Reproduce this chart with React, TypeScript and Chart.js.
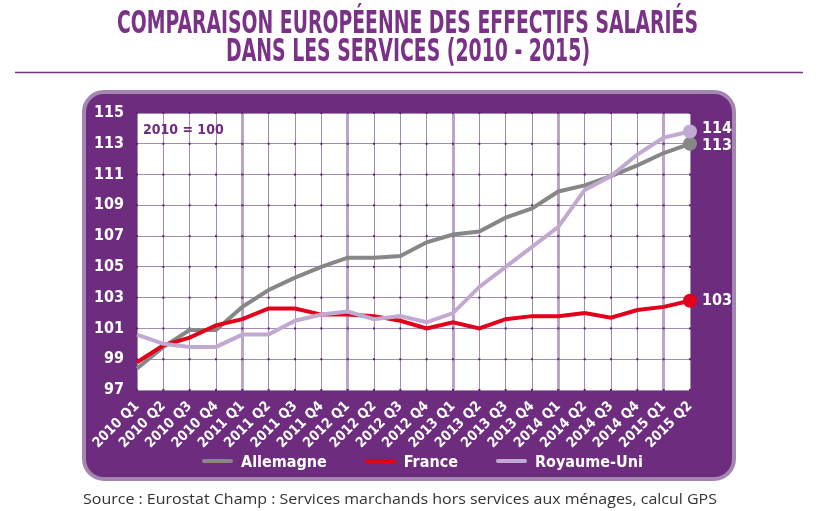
import React, { useEffect, useRef } from "react";
import { Chart, registerables } from "chart.js";

Chart.register(...registerables);

// ---------- data ----------
const quarters = [
  "2010 Q1", "2010 Q2", "2010 Q3", "2010 Q4",
  "2011 Q1", "2011 Q2", "2011 Q3", "2011 Q4",
  "2012 Q1", "2012 Q2", "2012 Q3", "2012 Q4",
  "2013 Q1", "2013 Q2", "2013 Q3", "2013 Q4",
  "2014 Q1", "2014 Q2", "2014 Q3", "2014 Q4",
  "2015 Q1", "2015 Q2",
];
const allemagne = [
  98.4, 99.8, 100.9, 100.9,
  102.4, 103.5, 104.3, 105.0,
  105.6, 105.6, 105.7, 106.6,
  107.1, 107.3, 108.2, 108.8,
  109.9, 110.3, 110.9, 111.6,
  112.4, 113.0,
];
const france = [
  98.8, 99.9, 100.4, 101.2,
  101.6, 102.3, 102.3, 101.9,
  101.9, 101.8, 101.5, 101.0,
  101.4, 101.0, 101.6, 101.8,
  101.8, 102.0, 101.7, 102.2,
  102.4, 102.8,
];
const royaumeUni = [
  100.6, 100.0, 99.8, 99.8,
  100.6, 100.6, 101.5, 101.9,
  102.1, 101.6, 101.8, 101.4,
  102.0, 103.7, 105.0, 106.3,
  107.6, 110.0, 110.9, 112.3,
  113.4, 113.8,
];
const seriesNames = ["Allemagne", "France", "Royaume-Uni"];
const endLabels = ["113", "103", "114"];
const yMin = 97;
const yMax = 115;
const yStep = 2;
const baseNote = "2010 = 100";
const titleLine1 = "COMPARAISON EUROPÉENNE DES EFFECTIFS SALARIÉS";
const titleLine2 = "DANS LES SERVICES (2010 - 2015)";
const sourceText =
  "Source : Eurostat Champ : Services marchands hors services aux ménages, calcul GPS";

// ---------- styles ----------
const COND =
  '"Liberation Sans Narrow", "DejaVu Sans Condensed", "Roboto Condensed", Roboto, sans-serif';
const PURPLE = "#6d2c7d";
const TITLE_PURPLE = "#7a3287";
const seriesColors = ["#878787", "#e2001a", "#c1a9d0"];
const seriesOrder = [2, 1, 0];
const endOffsets = [2, 0, -3];
const thinGrid = "#a48cb0";
const thickGrid = "#bba5c9";

const plotBg = {
  id: "plotBg",
  beforeDraw(chart: any) {
    const { ctx, chartArea: a } = chart;
    ctx.save();
    ctx.fillStyle = "#ffffff";
    ctx.fillRect(a.left, a.top, a.right - a.left, a.bottom - a.top);
    ctx.restore();
  },
};

const gridDots = {
  id: "gridDots",
  beforeDatasetsDraw(chart: any) {
    const { ctx } = chart;
    const xs = chart.scales.x;
    const ys = chart.scales.y;
    ctx.save();
    ctx.fillStyle = "#5a2669";
    xs.ticks.forEach((_: any, i: number) => {
      const px = xs.getPixelForTick(i);
      ys.ticks.forEach((__: any, j: number) => {
        const py = ys.getPixelForTick(j);
        ctx.fillRect(px - 1, py - 1, 2, 2);
      });
    });
    ctx.restore();
  },
};

const annotations = {
  id: "annotations",
  afterDatasetsDraw(chart: any) {
    const { ctx, chartArea: a } = chart;
    ctx.save();
    ctx.font = `bold 14px ${COND}`;
    ctx.fillStyle = PURPLE;
    ctx.textAlign = "left";
    ctx.textBaseline = "middle";
    ctx.fillText(baseNote, a.left + 6, a.top + 17);
    ctx.font = `bold 16px ${COND}`;
    ctx.fillStyle = "#ffffff";
    chart.data.datasets.forEach((_: any, i: number) => {
      const meta = chart.getDatasetMeta(i);
      const pt = meta.data[meta.data.length - 1];
      ctx.fillText(endLabels[i], pt.x + 12, pt.y + endOffsets[i]);
    });
    ctx.restore();
  },
};

export default function App() {
  const canvasRef = useRef<HTMLCanvasElement | null>(null);

  useEffect(() => {
    const canvas = canvasRef.current;
    if (!canvas) return;
    const seriesData = [allemagne, france, royaumeUni];
    const lastIdx = quarters.length - 1;
    const chart = new Chart(canvas, {
      type: "line",
      data: {
        labels: quarters,
        datasets: seriesData.map((d, i) => ({
          label: seriesNames[i],
          data: d,
          borderColor: seriesColors[i],
          backgroundColor: seriesColors[i],
          borderWidth: 4,
          tension: 0,
          fill: false,
          clip: false,
          order: seriesOrder[i],
          pointRadius: (ctx: any) => (ctx.dataIndex === lastIdx ? 7 : 0),
          pointBorderWidth: 0,
          pointBackgroundColor: seriesColors[i],
          pointHoverRadius: 0,
        })),
      },
      options: {
        responsive: false,
        animation: false,
        devicePixelRatio: 1,
        events: [],
        layout: { padding: { left: 0, top: 113, right: 129, bottom: 51 } },
        plugins: {
          legend: { display: false },
          tooltip: { enabled: false },
          title: { display: false },
        },
        scales: {
          x: {
            type: "category",
            offset: false,
            border: { display: false },
            grid: {
              offset: false,
              drawTicks: false,
              color: (ctx: any) =>
                ctx.index > 0 && String(quarters[ctx.index]).endsWith("Q1")
                  ? thickGrid
                  : thinGrid,
              lineWidth: (ctx: any) =>
                ctx.index > 0 && String(quarters[ctx.index]).endsWith("Q1") ? 3 : 1,
            },
            ticks: {
              color: "#ffffff",
              font: { family: COND, weight: "bold", size: 14 },
              minRotation: 45,
              maxRotation: 45,
              autoSkip: false,
              padding: 8,
            },
            afterFit: (s: any) => {
              s.height = 70;
            },
          },
          y: {
            min: yMin,
            max: yMax,
            border: { display: false },
            grid: { color: thinGrid, lineWidth: 1, drawTicks: false },
            ticks: {
              stepSize: yStep,
              color: "#ffffff",
              font: { family: COND, weight: "bold", size: 16 },
              padding: 13,
            },
            afterFit: (s: any) => {
              s.width = 137;
            },
          },
        },
      },
      plugins: [plotBg, gridDots, annotations],
    } as any);
    return () => chart.destroy();
  }, []);

  return (
    <div
      style={{
        position: "fixed",
        left: 0,
        top: 0,
        width: 819,
        height: 511,
        background: "#ffffff",
        overflow: "hidden",
      }}
    >
      <div
        style={{
          position: "absolute",
          left: 82,
          top: 90,
          width: 654,
          height: 391,
          boxSizing: "border-box",
          background: PURPLE,
          border: "4px solid #a386b1",
          borderRadius: 22,
        }}
      />
      <canvas
        ref={canvasRef}
        width={819}
        height={511}
        style={{ position: "absolute", left: 0, top: 0, width: 819, height: 511 }}
      />
      <svg
        width={819}
        height={511}
        style={{ position: "absolute", left: 0, top: 0, pointerEvents: "none" }}
      >
        <text
          x={117}
          y={33}
          textLength={581}
          lengthAdjust="spacingAndGlyphs"
          fontFamily={COND}
          fontWeight="bold"
          fontSize={32}
          fill={TITLE_PURPLE}
        >
          {titleLine1}
        </text>
        <text
          x={226}
          y={61}
          textLength={364}
          lengthAdjust="spacingAndGlyphs"
          fontFamily={COND}
          fontWeight="bold"
          fontSize={32}
          fill={TITLE_PURPLE}
        >
          {titleLine2}
        </text>
        <line x1={15} x2={803} y1={72.5} y2={72.5} stroke={TITLE_PURPLE} strokeWidth={1.5} />
        <text
          x={83}
          y={504}
          textLength={634}
          lengthAdjust="spacingAndGlyphs"
          fontFamily='"Open Sans", "Noto Sans", sans-serif'
          fontSize={15}
          fill="#333333"
        >
          {sourceText}
        </text>
      </svg>
      <div
        style={{
          position: "absolute",
          left: 202,
          top: 451,
          height: 20,
          display: "flex",
          alignItems: "center",
          gap: 38,
          fontFamily: COND,
          fontWeight: "bold",
          fontSize: 16,
          color: "#ffffff",
        }}
      >
        {seriesNames.map((name, i) => (
          <div key={name} style={{ display: "flex", alignItems: "center", gap: 8 }}>
            <span
              style={{
                display: "inline-block",
                width: 31,
                height: 4,
                borderRadius: 2,
                background: seriesColors[i],
              }}
            />
            <span>{name}</span>
          </div>
        ))}
      </div>
    </div>
  );
}
